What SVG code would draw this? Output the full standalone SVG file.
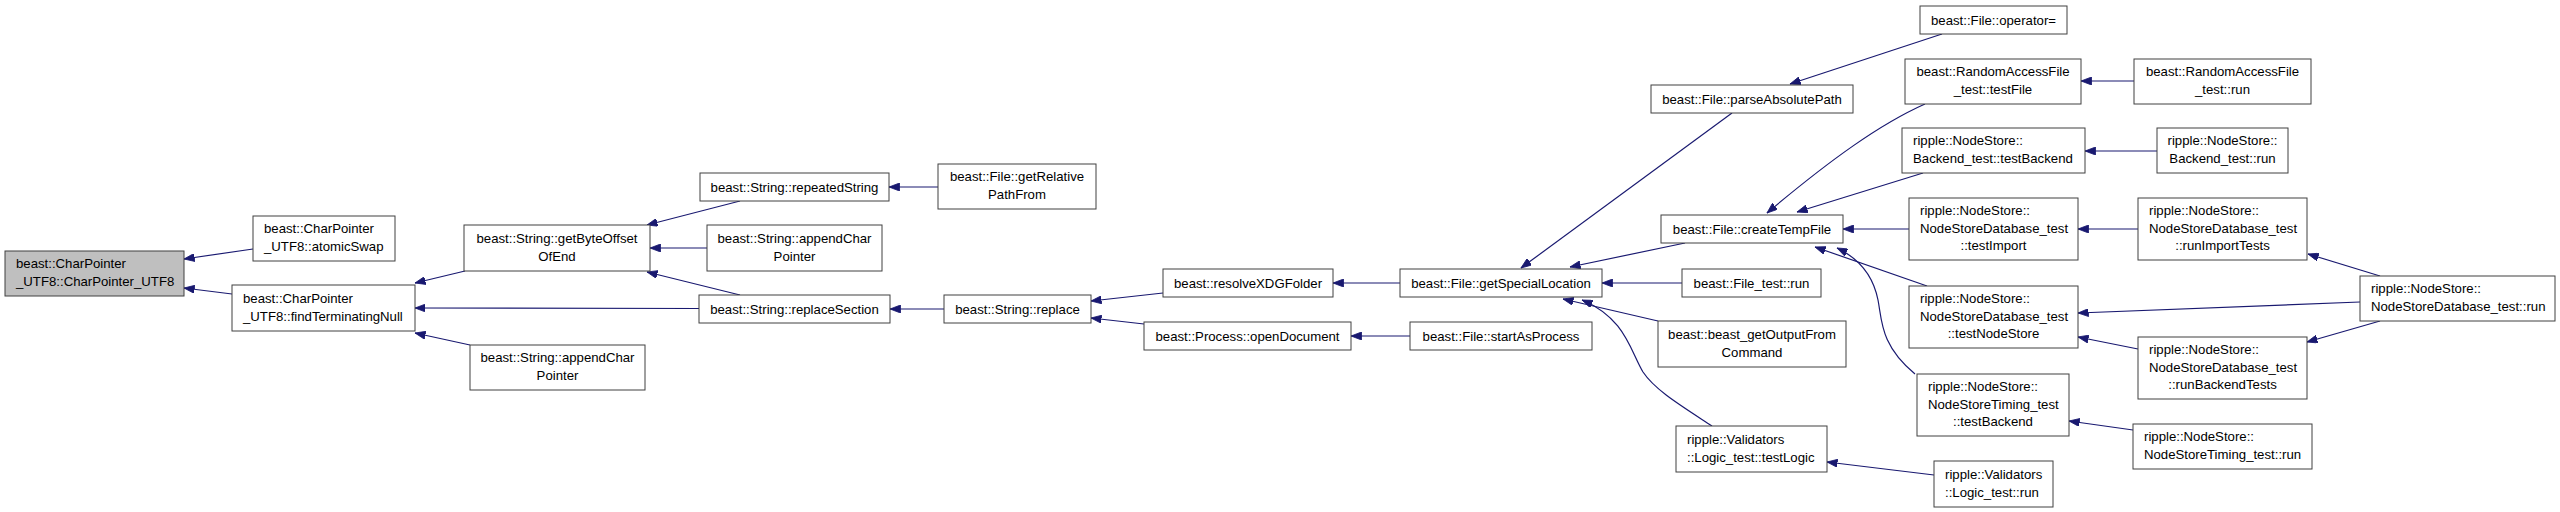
<svg xmlns="http://www.w3.org/2000/svg" width="2560" height="512" viewBox="0 0 2560 512">
<style>
.n rect{fill:#ffffff;stroke:#404040;stroke-width:1}
.n.root rect{fill:#bfbfbf}
.n text{font-family:"Liberation Sans",Arial,sans-serif;font-size:13.2px;fill:#000}
.c{text-anchor:middle}
#edges path{fill:none;stroke:#191970;stroke-width:1.2;marker-end:url(#ah)}
</style>
<defs>
<marker id="ah" markerUnits="userSpaceOnUse" markerWidth="11" markerHeight="8" refX="10.5" refY="4" orient="auto">
<path d="M0,0 L10.5,4 L0,8 z" fill="#191970" stroke="#191970" stroke-width="0.8"/>
</marker>
</defs>
<rect width="2560" height="512" fill="#ffffff"/>
<g id="edges">
<path d="M253,249 L184,259"/>
<path d="M232,294 L184,288"/>
<path d="M465,271 L415,283"/>
<path d="M699,308.5 L415,308"/>
<path d="M470,345 L415,333"/>
<path d="M740,201 L647,225"/>
<path d="M707,248 L650,248"/>
<path d="M740,295 L647,272"/>
<path d="M938,187 L889,187"/>
<path d="M944,309 L890,309"/>
<path d="M1163,293 L1091,301"/>
<path d="M1144,324 L1091,318"/>
<path d="M1400,283 L1333,283"/>
<path d="M1410,336 L1351,336"/>
<path d="M1732,113 L1521,268"/>
<path d="M1685,243 L1570,267"/>
<path d="M1682,283 L1602,283"/>
<path d="M1658,321 L1563,299"/>
<path d="M1712,426 C1680,405 1655,390 1643,372 C1630,350 1625,318 1582,300"/>
<path d="M1942,34 L1790,84"/>
<path d="M1925,104 C1880,124 1830,160 1767,213"/>
<path d="M1923,173 L1797,212"/>
<path d="M1909,229 L1843,229"/>
<path d="M1927,286 L1815,247"/>
<path d="M1915,374 C1880,345 1882,320 1878,300 C1873,275 1858,258 1837,248"/>
<path d="M1934,475 L1827,462"/>
<path d="M2134,81 L2081,81"/>
<path d="M2157,151 L2085,151"/>
<path d="M2138,229 L2078,229"/>
<path d="M2138,349 L2078,337"/>
<path d="M2360,302 L2078,313"/>
<path d="M2133,430 L2069,421"/>
<path d="M2380,276 L2308,254"/>
<path d="M2380,321 L2307,342"/>
</g>
<g id="n_ctor" class="n root"><rect x="5" y="251" width="179" height="45"/><text x="16" y="268">beast::CharPointer</text><text x="16" y="286">_UTF8::CharPointer_UTF8</text></g>
<g id="n_atomicSwap" class="n"><rect x="253" y="216" width="142" height="45"/><text x="264" y="233">beast::CharPointer</text><text x="264" y="251">_UTF8::atomicSwap</text></g>
<g id="n_findTerminatingNull" class="n"><rect x="232" y="285" width="183" height="46"/><text x="243" y="302.5">beast::CharPointer</text><text x="243" y="320.5">_UTF8::findTerminatingNull</text></g>
<g id="n_getByteOffsetOfEnd" class="n"><rect x="464" y="225" width="186" height="46"/><text class="c" x="557" y="242.5">beast::String::getByteOffset</text><text class="c" x="557" y="260.5">OfEnd</text></g>
<g id="n_appendCharPointer2" class="n"><rect x="470" y="345" width="175" height="45"/><text class="c" x="557.5" y="362">beast::String::appendChar</text><text class="c" x="557.5" y="380">Pointer</text></g>
<g id="n_repeatedString" class="n"><rect x="700" y="173" width="189" height="28"/><text class="c" x="794.5" y="191.5">beast::String::repeatedString</text></g>
<g id="n_appendCharPointer1" class="n"><rect x="707" y="225" width="175" height="46"/><text class="c" x="794.5" y="242.5">beast::String::appendChar</text><text class="c" x="794.5" y="260.5">Pointer</text></g>
<g id="n_replaceSection" class="n"><rect x="699" y="295" width="191" height="28"/><text class="c" x="794.5" y="313.5">beast::String::replaceSection</text></g>
<g id="n_getRelativePathFrom" class="n"><rect x="938" y="164" width="158" height="45"/><text class="c" x="1017" y="181">beast::File::getRelative</text><text class="c" x="1017" y="199">PathFrom</text></g>
<g id="n_replace" class="n"><rect x="944" y="295" width="147" height="28"/><text class="c" x="1017.5" y="313.5">beast::String::replace</text></g>
<g id="n_resolveXDGFolder" class="n"><rect x="1163" y="269" width="170" height="28"/><text class="c" x="1248" y="287.5">beast::resolveXDGFolder</text></g>
<g id="n_openDocument" class="n"><rect x="1144" y="322" width="207" height="28"/><text class="c" x="1247.5" y="340.5">beast::Process::openDocument</text></g>
<g id="n_getSpecialLocation" class="n"><rect x="1400" y="269" width="202" height="28"/><text class="c" x="1501" y="287.5">beast::File::getSpecialLocation</text></g>
<g id="n_startAsProcess" class="n"><rect x="1410" y="322" width="182" height="28"/><text class="c" x="1501" y="340.5">beast::File::startAsProcess</text></g>
<g id="n_parseAbsolutePath" class="n"><rect x="1651" y="85" width="202" height="28"/><text class="c" x="1752" y="103.5">beast::File::parseAbsolutePath</text></g>
<g id="n_createTempFile" class="n"><rect x="1661" y="215" width="182" height="28"/><text class="c" x="1752" y="233.5">beast::File::createTempFile</text></g>
<g id="n_File_test_run" class="n"><rect x="1682" y="269" width="139" height="28"/><text class="c" x="1751.5" y="287.5">beast::File_test::run</text></g>
<g id="n_getOutputFromCommand" class="n"><rect x="1658" y="321" width="188" height="46"/><text class="c" x="1752" y="338.5">beast::beast_getOutputFrom</text><text class="c" x="1752" y="356.5">Command</text></g>
<g id="n_testLogic" class="n"><rect x="1676" y="426" width="151" height="46"/><text x="1687" y="443.5">ripple::Validators</text><text x="1687" y="461.5">::Logic_test::testLogic</text></g>
<g id="n_operatorAssign" class="n"><rect x="1920" y="6" width="147" height="28"/><text class="c" x="1993.5" y="24.5">beast::File::operator=</text></g>
<g id="n_RAF_testFile" class="n"><rect x="1905" y="59" width="176" height="45"/><text class="c" x="1993" y="76">beast::RandomAccessFile</text><text class="c" x="1993" y="94">_test::testFile</text></g>
<g id="n_Backend_testBackend" class="n"><rect x="1902" y="128" width="183" height="45"/><text x="1913" y="145">ripple::NodeStore::</text><text x="1913" y="163">Backend_test::testBackend</text></g>
<g id="n_testImport" class="n"><rect x="1909" y="198" width="169" height="62"/><text x="1920" y="215">ripple::NodeStore::</text><text x="1920" y="232.5">NodeStoreDatabase_test</text><text class="c" x="1993.5" y="250">::testImport</text></g>
<g id="n_testNodeStore" class="n"><rect x="1909" y="286" width="169" height="62"/><text x="1920" y="303">ripple::NodeStore::</text><text x="1920" y="320.5">NodeStoreDatabase_test</text><text class="c" x="1993.5" y="338">::testNodeStore</text></g>
<g id="n_Timing_testBackend" class="n"><rect x="1917" y="374" width="152" height="62"/><text x="1928" y="391">ripple::NodeStore::</text><text x="1928" y="408.5">NodeStoreTiming_test</text><text class="c" x="1993" y="426">::testBackend</text></g>
<g id="n_Logic_test_run" class="n"><rect x="1934" y="461" width="119" height="46"/><text x="1945" y="478.5">ripple::Validators</text><text x="1945" y="496.5">::Logic_test::run</text></g>
<g id="n_RAF_run" class="n"><rect x="2134" y="59" width="177" height="45"/><text class="c" x="2222.5" y="76">beast::RandomAccessFile</text><text class="c" x="2222.5" y="94">_test::run</text></g>
<g id="n_Backend_run" class="n"><rect x="2157" y="128" width="131" height="45"/><text class="c" x="2222.5" y="145">ripple::NodeStore::</text><text class="c" x="2222.5" y="163">Backend_test::run</text></g>
<g id="n_runImportTests" class="n"><rect x="2138" y="198" width="169" height="62"/><text x="2149" y="215">ripple::NodeStore::</text><text x="2149" y="232.5">NodeStoreDatabase_test</text><text class="c" x="2222.5" y="250">::runImportTests</text></g>
<g id="n_runBackendTests" class="n"><rect x="2138" y="337" width="169" height="62"/><text x="2149" y="354">ripple::NodeStore::</text><text x="2149" y="371.5">NodeStoreDatabase_test</text><text class="c" x="2222.5" y="389">::runBackendTests</text></g>
<g id="n_Timing_run" class="n"><rect x="2133" y="424" width="179" height="45"/><text x="2144" y="441">ripple::NodeStore::</text><text x="2144" y="459">NodeStoreTiming_test::run</text></g>
<g id="n_NSDB_run" class="n"><rect x="2360" y="276" width="195" height="45"/><text x="2371" y="293">ripple::NodeStore::</text><text x="2371" y="311">NodeStoreDatabase_test::run</text></g>
</svg>
